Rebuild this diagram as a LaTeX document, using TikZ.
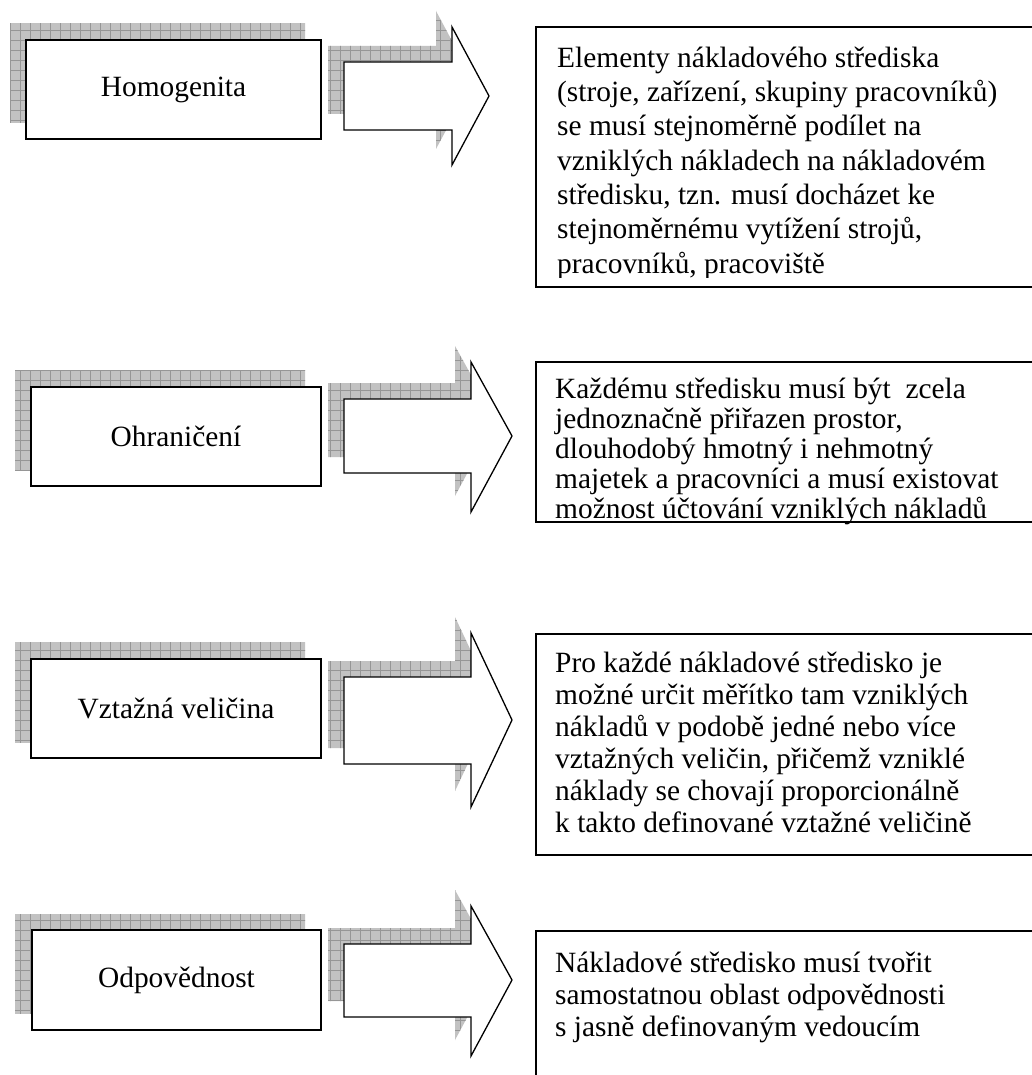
\documentclass[tikz,border=0pt]{standalone}
\usepackage{fontspec}
\setmainfont{Liberation Serif}
\definecolor{shadegray}{RGB}{194,194,194}
\definecolor{gridgray}{RGB}{150,150,150}
\tikzset{
  labelbox/.style={rectangle,draw=black,line width=1.3pt,fill=white,minimum width=295pt,minimum height=99pt,font=\fontsize{29.4}{35}\selectfont},
  blockarrow/.style={draw=black,line width=1.3pt,fill=white,line join=miter},
  descbox/.style={draw=black,line width=1.3pt},
  desctext/.style={anchor=north west,inner sep=0pt,align=left,font=\fontsize{29.4}{32}\selectfont},
  gridline/.style={draw=gridgray,line width=0.7pt}
}
% hatched drop shadow: clip to the shape, fill it and lay a grid over it
\newcommand{\gridshade}[2][]{%
  \begin{scope}
    \clip[#1] #2;
    \fill[shadegray] (0,0) rectangle (1031,1075);
    \foreach \g in {0,10,...,1070} {
      \draw[gridline] (\g,0) -- (\g,1075);
      \draw[gridline] (0,\g) -- (1031,\g);
    }
  \end{scope}}
\def\arrowA{(344,62) -- (452,62) -- (452,27) -- (489,96) -- (452,165) -- (452,130) -- (344,130) -- cycle}
\def\arrowB{(344,399) -- (471,399) -- (471,362) -- (512,436) -- (471,512) -- (471,473) -- (344,473) -- cycle}
\def\arrowC{(344,677) -- (471,677) -- (471,633) -- (512,720) -- (471,807) -- (471,764) -- (344,764) -- cycle}
\def\arrowD{(344,944) -- (471,944) -- (471,906) -- (512,980) -- (471,1056) -- (471,1017) -- (344,1017) -- cycle}
\begin{document}
\begin{tikzpicture}[x=1pt,y=-1pt]
  \useasboundingbox (0,0) rectangle (1031,1075);

  % shadows
  \gridshade{(10,24) rectangle (305,123)}
  \gridshade{(15,370) rectangle (305,470)}
  \gridshade{(15,642) rectangle (305,742)}
  \gridshade{(15,914) rectangle (305,1013)}
  \gridshade[shift={(-16,-16)}]{\arrowA}
  \gridshade[shift={(-16,-16)}]{\arrowB}
  \gridshade[shift={(-16,-16)}]{\arrowC}
  \gridshade[shift={(-16,-16)}]{\arrowD}

  % left boxes
  \node[labelbox] (homog) at (173.5,89.5) {Homogenita};
  \node[labelbox,minimum width=290pt] (ohran) at (176,436.5) {Ohraničení};
  \node[labelbox,minimum width=290pt] (vztah) at (176,708.5) {Vztažná veličina};
  \node[labelbox,minimum width=289pt,minimum height=100pt] (odpov) at (176.5,980) {Odpovědnost};

  % arrows
  \draw[blockarrow] \arrowA;
  \draw[blockarrow] \arrowB;
  \draw[blockarrow] \arrowC;
  \draw[blockarrow] \arrowD;

  % text boxes
  \draw[descbox] (536,27) rectangle (1045,287);
  \begin{scope}
    \clip (536,27) rectangle (1045,277);
    \node[desctext,font=\fontsize{29.4}{34.3}\selectfont] (homogtext) at (557,43) {\strut Elementy nákladového střediska\\
      (stroje, zařízení, skupiny pracovníků)\\
      se musí stejnoměrně podílet na\\
      vzniklých nákladech na nákladovém\\
      středisku, tzn. musí docházet ke\\
      stejnoměrnému vytížení strojů,\\
      pracovníků, pracoviště};
  \end{scope}

  \draw[descbox] (536,362) rectangle (1045,522);
  \node[desctext,font=\fontsize{29.4}{30}\selectfont] (ohrantext) at (555,377) {\strut Každému středisku musí být \ zcela\\
    jednoznačně přiřazen prostor,\\
    dlouhodobý hmotný i nehmotný\\
    majetek a pracovníci a musí existovat\\
    možnost účtování vzniklých nákladů};

  \draw[descbox] (536,634) rectangle (1045,855);
  \node[desctext] (vztahtext) at (555,649.5) {\strut Pro každé nákladové středisko je\\
    možné určit měřítko tam vzniklých\\
    nákladů v podobě jedné nebo více\\
    vztažných veličin, přičemž vzniklé\\
    náklady se chovají proporcionálně\\
    k takto definované vztažné veličině};

  \draw[descbox] (536,931) rectangle (1045,1090);
  \node[desctext] (odpovtext) at (555,949.5) {\strut Nákladové středisko musí tvořit\\
    samostatnou oblast odpovědnosti\\
    s jasně definovaným vedoucím};
\end{tikzpicture}
\end{document}
